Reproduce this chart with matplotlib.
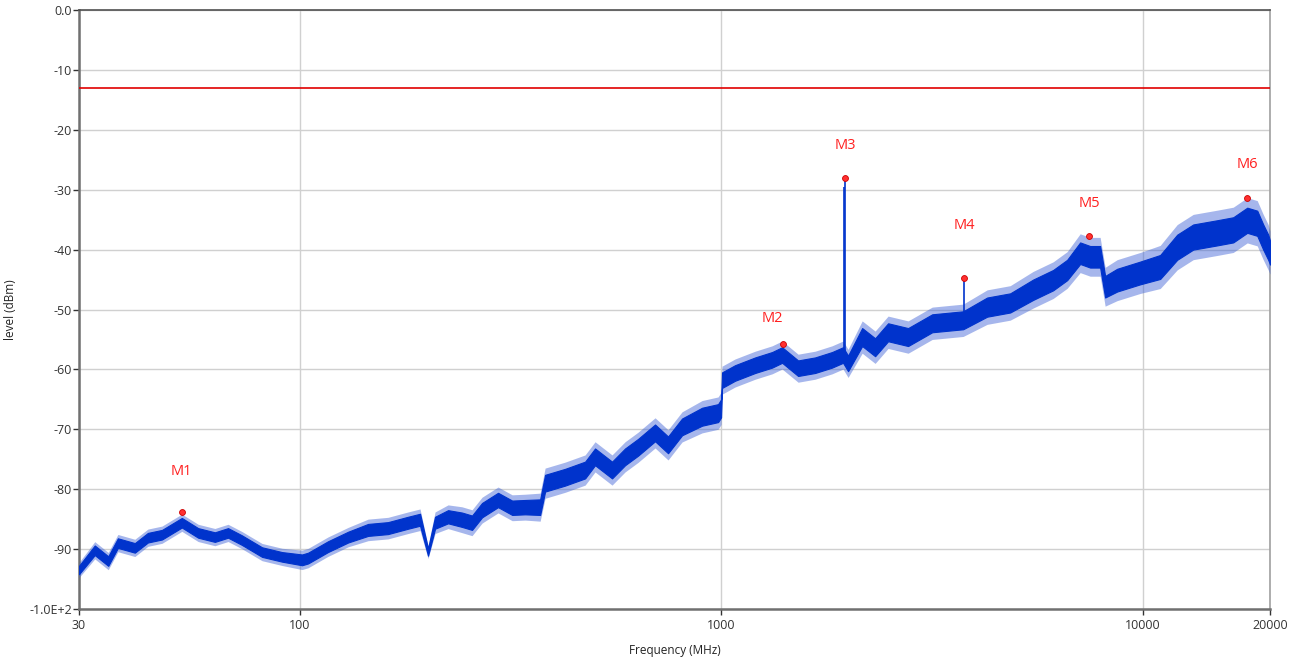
import matplotlib.pyplot as plt
from matplotlib.ticker import FixedLocator, FixedFormatter, NullLocator

plt.rcParams['font.family'] = ['Open Sans', 'DejaVu Sans']

# trace: frequency (MHz), mid level (dBm), half band (dB)
freq = [30, 32.7, 35.2, 37.1, 40.7, 43.7, 47.2, 52.6, 57.5, 63.0, 67.7, 73.0,
        81.5, 90.9, 101.4, 104.8, 116.8, 130.4, 145.4, 162.1, 180.9, 193.1,
        201.7, 209.6, 225.0, 242.8, 256.5, 270.9, 295.6, 319.3, 342.6, 372.0,
        382.2, 426.4, 475.5, 502.0, 550.8, 591.4, 635.0, 696.6, 747.8, 807.2,
        900.5, 982.7, 999, 1004, 1078, 1203, 1320, 1394, 1521, 1669, 1831,
        1944, 1998, 2158, 2316, 2486, 2773, 3163, 3745, 4269, 4842, 5488,
        6121, 6608, 7094, 7490, 7911, 8130, 8682, 9843, 10980, 12050, 13150,
        14980, 16360, 17660, 18650, 19270, 19800, 20000]
level = [-93.5, -90.2, -92.0, -89.0, -89.8, -88.1, -87.6, -85.6, -87.3, -88.0,
         -87.3, -88.5, -90.5, -91.3, -91.8, -91.5, -89.6, -88.0, -86.8, -86.5,
         -85.6, -85.1, -90.5, -85.6, -84.6, -85.1, -85.6, -83.5, -81.8, -83.1,
         -83.0, -83.0, -79.0, -78.0, -76.8, -74.6, -76.8, -74.6, -73.0, -70.6,
         -72.6, -69.6, -67.9, -67.3, -66.5, -61.8, -60.6, -59.3, -58.4, -57.6,
         -59.8, -59.3, -58.4, -57.6, -59.0, -54.6, -56.3, -53.8, -54.6, -52.3,
         -51.8, -49.6, -48.9, -46.7, -45.1, -43.4, -40.6, -41.2, -41.2, -46.2,
         -45.1, -43.9, -42.9, -39.6, -37.9, -37.2, -36.7, -35.1, -35.6, -37.9,
         -39.6, -40.5]
spread = [0.7, 0.8, 0.8, 0.8, 0.8, 0.8, 0.8, 0.8, 0.8, 0.8, 0.8, 0.8,
          0.8, 0.8, 0.9, 0.9, 0.9, 0.9, 1.0, 1.0, 1.0, 1.0,
          0.6, 1.0, 1.1, 1.2, 1.2, 1.2, 1.2, 1.2, 1.2, 1.3,
          1.4, 1.4, 1.4, 1.4, 1.4, 1.4, 1.4, 1.4, 1.4, 1.4,
          1.5, 1.5, 1.5, 1.3, 1.3, 1.3, 1.3, 1.3, 1.3, 1.3, 1.3,
          1.3, 1.3, 1.5, 1.5, 1.5, 1.5, 1.5, 1.5, 1.6, 1.6, 1.7,
          1.7, 1.7, 1.8, 1.8, 1.8, 1.8, 1.9, 1.9, 2.0, 2.1, 2.1,
          2.1, 2.1, 2.1, 2.1, 2.1, 2.1, 2.0]

# narrow spikes (MHz, base dBm, peak dBm)
spike_freq = [1952, 1966, 3765]
spike_base = [-58.5, -58.5, -51.5]
spike_peak = [-29.5, -28.0, -44.7]

limit_level = -13

marker_names = ['M1', 'M2', 'M3', 'M4', 'M5', 'M6']
marker_freq = [52.6, 1401, 1966, 3765, 7446, 17660]
marker_level = [-83.8, -55.8, -28.0, -44.7, -37.7, -31.4]
label_offsets = [(0, 24), (-8, 13), (0, 18), (0, 32), (0, 18), (0, 19)]

yticks = [0, -10, -20, -30, -40, -50, -60, -70, -80, -90, -100]
ytick_labels = ['0.0', '-10', '-20', '-30', '-40', '-50', '-60', '-70', '-80', '-90', '-1.0E+2']
xticks = [30, 100, 1000, 10000, 20000]
xtick_labels = ['30', '100', '1000', '10000', '20000']

fig = plt.figure(figsize=(12.99, 6.6), dpi=100)
ax = fig.add_axes([0.0608, 0.0773, 0.9169, 0.9075])
ax.set_xscale('log')
ax.set_xlim(30, 20000)
ax.set_ylim(-100, 0)

trace_blue = '#0033cc'
outer_lo = [l - 1.8 * s for l, s in zip(level, spread)]
outer_hi = [l + 1.8 * s for l, s in zip(level, spread)]
lower = [l - s for l, s in zip(level, spread)]
upper = [l + s for l, s in zip(level, spread)]
ax.fill_between(freq, outer_lo, outer_hi, color='#3a5fd6', alpha=0.45,
                linewidth=0, zorder=3)
ax.fill_between(freq, lower, upper, color=trace_blue, linewidth=0.8,
                edgecolor=trace_blue, zorder=3)
ax.vlines(spike_freq, spike_base, spike_peak, color=trace_blue, linewidth=1.2, zorder=3)

ax.axhline(limit_level, color='#e00000', linewidth=1.2, zorder=4)

ax.scatter(marker_freq, marker_level, s=18, color='#ff3030', edgecolors='#cc0000',
           linewidths=0.6, zorder=5)
for name, f, lv, off in zip(marker_names, marker_freq, marker_level, label_offsets):
    ax.annotate(name, (f, lv), xytext=off, textcoords='offset points',
                ha='center', va='bottom', color='#ff2020', fontsize=10.5)

ax.xaxis.set_major_locator(FixedLocator(xticks))
ax.xaxis.set_major_formatter(FixedFormatter(xtick_labels))
ax.xaxis.set_minor_locator(NullLocator())
ax.set_yticks(yticks)
ax.set_yticklabels(ytick_labels)

ax.grid(True, color='#d0d0d0', linewidth=1.0, zorder=0)
ax.set_axisbelow(True)
ax.tick_params(axis='both', labelsize=9, colors='#333333', length=4, width=1,
               direction='out')
ax.tick_params(axis='y', pad=1)

for side in ['left', 'bottom']:
    ax.spines[side].set_color('#707070')
    ax.spines[side].set_linewidth(1.8)
ax.spines['top'].set_color('#505050')
ax.spines['top'].set_linewidth(1.2)
ax.spines['right'].set_color('#a0a0a0')
ax.spines['right'].set_linewidth(1.2)

ax.set_xlabel('Frequency (MHz)', fontsize=8.5, color='#222222', labelpad=8)
ax.set_ylabel('level (dBm)', fontsize=8.5, color='#222222')
ax.yaxis.set_label_coords(-0.052, 0.5)

fig.savefig('out.png', dpi=100)
